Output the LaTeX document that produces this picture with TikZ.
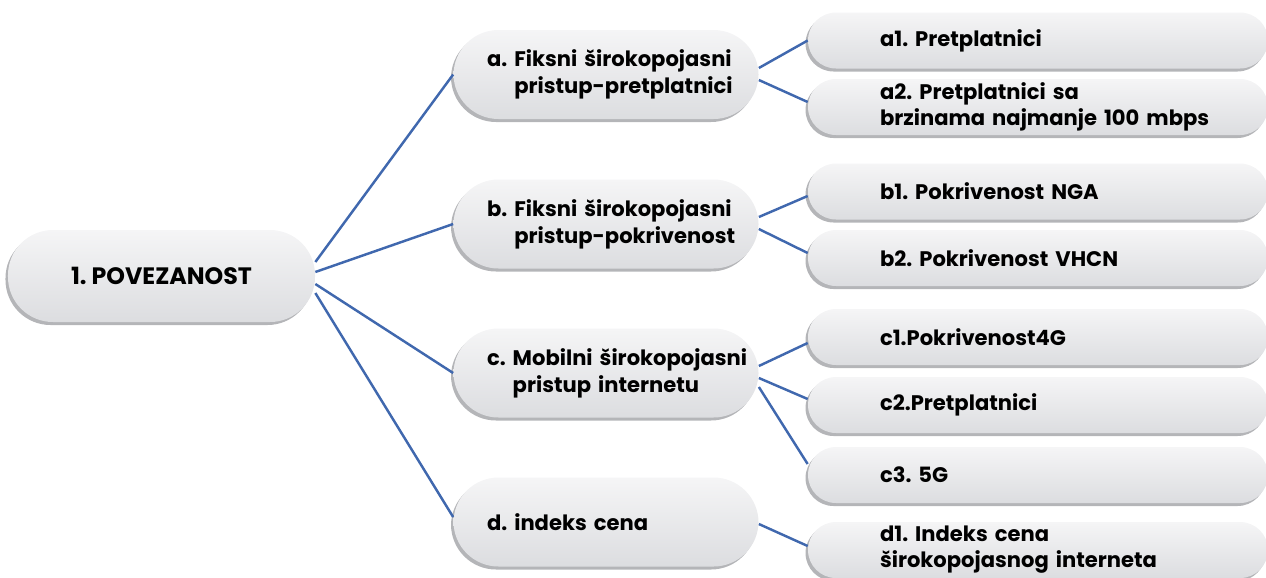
\documentclass[tikz,border=0pt]{standalone}
\usepackage{fontspec}
\setmainfont{Poppins}
\usetikzlibrary{shadows}

\definecolor{pilltop}{HTML}{F5F5F6}
\definecolor{pillbot}{HTML}{DCDDE0}
\definecolor{pillrim}{HTML}{B4B5B8}
\definecolor{linkblue}{HTML}{4068AE}

\hyphenpenalty=10000
\exhyphenpenalty=10000
\frenchspacing

\tikzset{
    pill/.style={rectangle, rounded corners=0.9cm, top color=pilltop, bottom color=pillbot,
        drop shadow={shadow xshift=-0.05cm, shadow yshift=-0.06cm, fill=pillrim, opacity=1},
        font=\bfseries\fontsize{12}{15.2}\selectfont, inner sep=0pt},
    rootbox/.style={pill, minimum width=6.14cm, minimum height=1.84cm, align=center, font=\bfseries\fontsize{13.5}{16}\selectfont},
    topicbox/.style={pill, minimum width=6.1cm, minimum height=1.78cm, text width=4.76cm, align=left},
    leafbox/.style={pill, rounded corners=0.56cm, minimum width=9.2cm, minimum height=1.12cm, text width=6.32cm, align=left, font=\bfseries\fontsize{12}{14.8}\selectfont},
    link/.style={draw=linkblue, line width=1.4pt}
}

\begin{document}
\begin{tikzpicture}
        \useasboundingbox (0,0) rectangle (25.32,-11.54);

        % Root
        \node[rootbox] (root) at (3.23,-5.52) {1. POVEZANOST};

        % First level
        \node[topicbox] (fixsub) at (12.12,-1.49) {\mbox{a. Fiksni širokopojasni}\\\mbox{\hphantom{a. }pristup-pretplatnici}};
        \node[topicbox] (fixcov) at (12.12,-4.48) {\mbox{b. Fiksni širokopojasni}\\\mbox{\hphantom{b. }pristup-pokrivenost}};
        \node[topicbox] (mobile) at (12.12,-7.46) {\mbox{c. Mobilni širokopojasni}\\\mbox{\hphantom{c. }pristup internetu}};
        \node[topicbox] (price) at (12.12,-10.44) {d. indeks cena};

        % Second level
        \node[leafbox] (fixsubA) at (20.76,-0.81) {a1. Pretplatnici};
        \node[leafbox] (fixsubB) at (20.76,-2.14) {a2. Pretplatnici sa\\\mbox{brzinama najmanje 100 mbps}};
        \node[leafbox] (fixcovA) at (20.76,-3.83) {b1. Pokrivenost NGA};
        \node[leafbox] (fixcovB) at (20.76,-5.16) {b2. Pokrivenost VHCN};
        \node[leafbox] (mobileA) at (20.76,-6.74) {c1.Pokrivenost4G};
        \node[leafbox] (mobileB) at (20.76,-8.10) {c2.Pretplatnici};
        \node[leafbox] (mobileC) at (20.76,-9.50) {c3. 5G};
        \node[leafbox] (priceA) at (20.76,-11.00) {d1. Indeks cena\\\mbox{širokopojasnog interneta}};

        % Root to first level
        \draw[link] ([yshift=0.28cm]root.east) -- (fixsub.west);
        \draw[link] ([yshift=0.08cm]root.east) -- (fixcov.west);
        \draw[link] ([yshift=-0.16cm]root.east) -- (mobile.west);
        \draw[link] ([yshift=-0.34cm]root.east) -- ([yshift=0.1cm]price.west);

        % First level to second level
        \draw[link] ([yshift=0.13cm]fixsub.east) -- (fixsubA.west);
        \draw[link] ([yshift=-0.11cm]fixsub.east) -- ([yshift=0.1cm]fixsubB.west);
        \draw[link] ([yshift=0.14cm]fixcov.east) -- ([yshift=-0.09cm]fixcovA.west);
        \draw[link] ([yshift=-0.1cm]fixcov.east) -- ([yshift=0.1cm]fixcovB.west);
        \draw[link] ([yshift=0.14cm]mobile.east) -- ([yshift=-0.12cm]mobileA.west);
        \draw[link] ([yshift=-0.1cm]mobile.east) -- ([yshift=0.12cm]mobileB.west);
        \draw[link] ([yshift=-0.28cm]mobile.east) -- ([yshift=0.22cm]mobileC.west);
        \draw[link] ([yshift=-0.04cm]price.east) -- ([yshift=0.08cm]priceA.west);
    \end{tikzpicture}
\end{document}
